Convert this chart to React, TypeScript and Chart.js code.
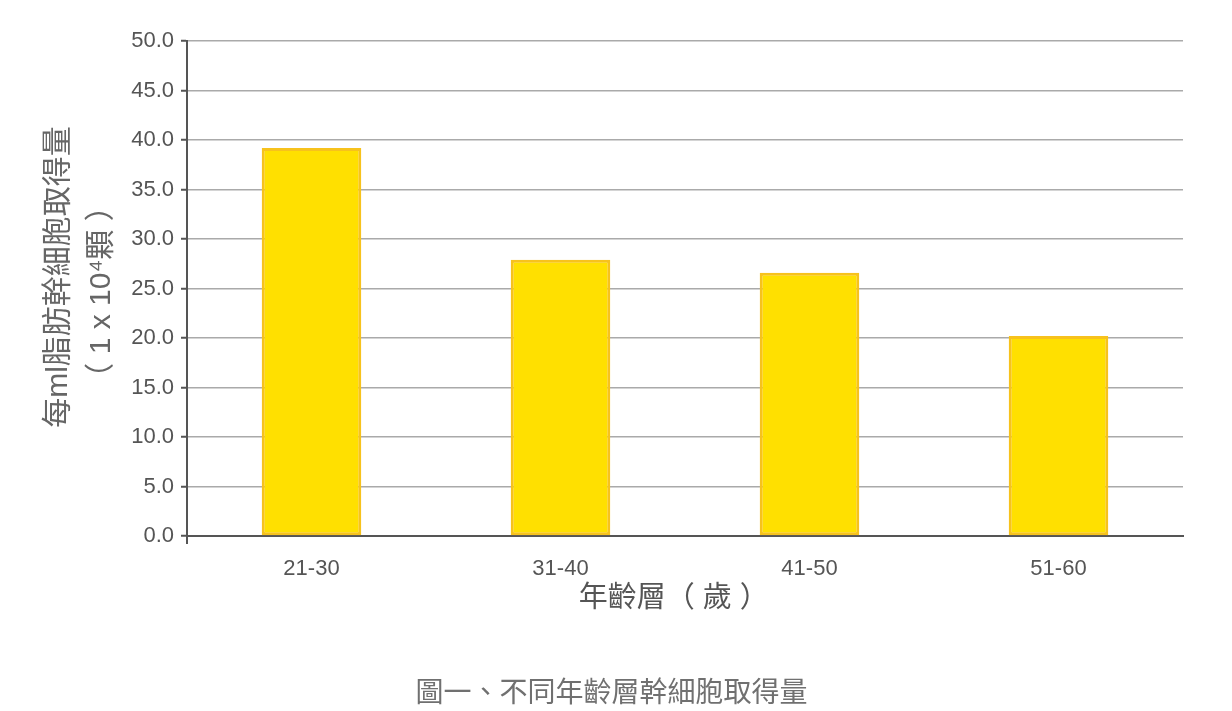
import React, { useEffect, useRef } from "react";
import { Chart, registerables } from "chart.js";

Chart.register(...registerables);

const ageGroups = ["21-30", "31-40", "41-50", "51-60"];
const cellCounts = [39.2, 27.9, 26.6, 20.2];
const yTitleLines = ["每ml脂肪幹細胞取得量", "（ 1 x 10⁴顆 ）"];
const xTitle = "年齡層（ 歲 ）　 ";
const caption = "圖一、不同年齡層幹細胞取得量";

const FONT = "'Liberation Sans', Arial, 'Noto Sans CJK TC', sans-serif";

// small stub of the y axis that pokes below the x axis
const axisStub = {
  id: "axisStub",
  afterDraw(chart: Chart) {
    const { ctx, chartArea } = chart;
    ctx.save();
    ctx.strokeStyle = "#555";
    ctx.lineWidth = 2;
    ctx.beginPath();
    ctx.moveTo(chartArea.left, chartArea.bottom);
    ctx.lineTo(chartArea.left, chartArea.bottom + 8);
    ctx.stroke();
    ctx.restore();
  },
};

// two-line rotated y title, each line placed on its own
const yTitlePlugin = {
  id: "yTitle",
  afterDraw(chart: Chart) {
    const { ctx } = chart;
    const spots = [
      [51, 269],
      [94, 284],
    ];
    ctx.save();
    ctx.fillStyle = "#666";
    ctx.font = `30px ${FONT}`;
    ctx.textAlign = "center";
    ctx.textBaseline = "middle";
    yTitleLines.forEach((line, i) => {
      ctx.save();
      ctx.translate(spots[i][0], spots[i][1]);
      ctx.rotate(-Math.PI / 2);
      ctx.fillText(line, 0, 0);
      ctx.restore();
    });
    ctx.restore();
  },
};

function App() {
  const canvasRef = useRef<HTMLCanvasElement>(null);

  useEffect(() => {
    const ctx = canvasRef.current?.getContext("2d");
    if (!ctx) return;

    const chart = new Chart(ctx, {
      type: "bar",
      data: {
        labels: ageGroups,
        datasets: [
          {
            data: cellCounts,
            backgroundColor: "#FFE000",
            borderColor: "#F7C21C",
            borderWidth: 3,
            borderSkipped: false,
            categoryPercentage: 1,
            barPercentage: 0.4,
          },
        ],
      },
      options: {
        animation: false,
        responsive: true,
        maintainAspectRatio: false,
        layout: { padding: { top: 33, right: 41, left: 0, bottom: 0 } },
        plugins: {
          legend: { display: false },
          tooltip: { enabled: false },
        },
        scales: {
          x: {
            grid: { display: false },
            border: { display: true, color: "#555", width: 2 },
            ticks: {
              color: "#555",
              padding: 12,
              font: { family: FONT, size: 22 },
            },
            title: {
              display: true,
              text: xTitle,
              color: "#555",
              font: { family: FONT, size: 29, lineHeight: 1.2 },
              padding: { top: 0, bottom: 95 },
            },
            afterFit: (scale: any) => {
              scale.height = 175;
            },
          },
          y: {
            min: 0,
            max: 50,
            ticks: {
              stepSize: 5,
              color: "#555",
              padding: 7,
              font: { family: FONT, size: 22 },
              callback: (v: any) => Number(v).toFixed(1),
            },
            grid: {
              color: "#aaa",
              lineWidth: 1.5,
              tickLength: 6,
              tickColor: "#555",
              tickWidth: 2,
            },
            border: { display: true, color: "#555", width: 2 },
            afterFit: (scale: any) => {
              scale.width = 179;
            },
          },
        },
      },
      plugins: [axisStub, yTitlePlugin],
    });

    return () => {
      chart.destroy();
    };
  }, []);

  return (
    <div style={{ position: "relative", width: "100%", height: 703 }}>
      <canvas ref={canvasRef} />
      <div
        style={{
          position: "absolute",
          left: 0,
          top: 668,
          width: 1207,
          textAlign: "center",
          fontFamily: FONT,
          fontSize: 28,
          lineHeight: "33.6px",
          color: "#707070",
        }}
      >
        {caption}
      </div>
    </div>
  );
}

export default App;
